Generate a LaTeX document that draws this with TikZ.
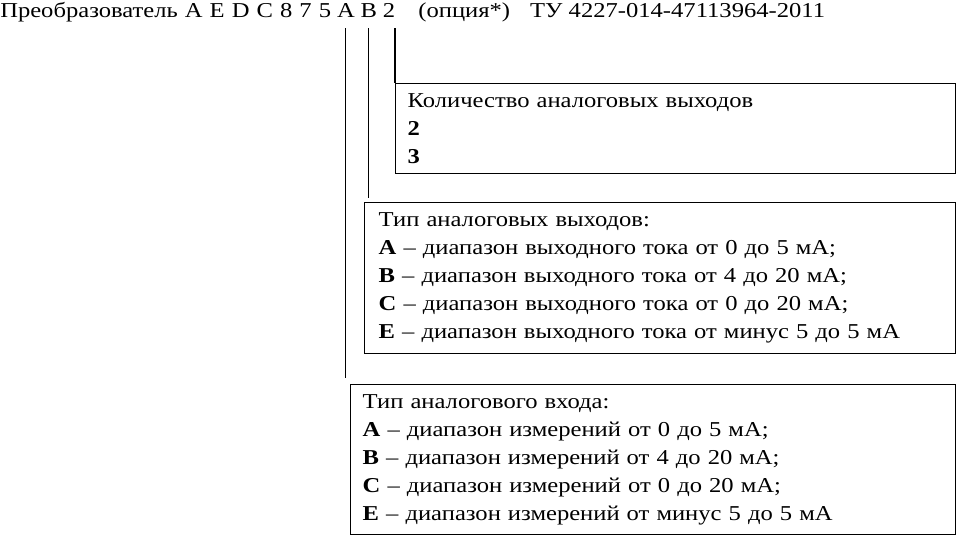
\documentclass[tikz,border=0pt]{standalone}
\usepackage{fontspec}
\setmainfont[FakeStretch=1.16]{Liberation Serif}
\usetikzlibrary{positioning}

\begin{document}
\begin{tikzpicture}[x=0.75pt, y=-0.75pt, font=\fontsize{15.9pt}{21pt}\selectfont]
    \tikzstyle{code} = [inner sep=0pt, anchor=base west]
    \tikzstyle{optbox} = [draw, line width=1.1pt, anchor=north west, align=left, inner xsep=9pt, inner ysep=0pt]
    \tikzstyle{link} = [line width=0.8pt]

    \useasboundingbox (0,0) rectangle (957,536);

    % Designation line
    \node [code] (title) at (0,17) {\spaceskip=5.3pt Преобразователь A E D C 8 7 5};
    \node [code, base right=4pt of title] (tA) {A};
    \node [code, base right=4pt of tA] (tB) {B};
    \node [code, base right=4pt of tB] (t2) {2};
    \node [code, base right=17pt of t2] (tail) {(опция*)\hspace{15pt}ТУ 4227-014-47113964-2011};

    % Option boxes
    \node [optbox, text width=402pt, minimum height=67.5pt] (outN) at (395,83) {Количество аналоговых выходов\\
        \textbf{2}\\
        \textbf{3}};
    \node [optbox, inner xsep=10.5pt, text width=422.25pt, minimum height=113.25pt] (outT) at (364,202) {Тип аналоговых выходов:\\
        \textbf{A} – диапазон выходного тока от 0 до 5 мА;\\
        \textbf{B} – диапазон выходного тока от 4 до 20 мА;\\
        \textbf{C} – диапазон выходного тока от 0 до 20 мА;\\
        \textbf{E} – диапазон выходного тока от минус 5 до 5 мА};
    \node [optbox, text width=435.75pt, minimum height=112.5pt] (inT) at (350,384) {Тип аналогового входа:\\
        \textbf{A} – диапазон измерений от 0 до 5 мА;\\
        \textbf{B} – диапазон измерений от 4 до 20 мА;\\
        \textbf{C} – диапазон измерений от 0 до 20 мА;\\
        \textbf{E} – диапазон измерений от минус 5 до 5 мА};

    % Leader lines
    \draw [link] ([yshift=-8.25pt]t2.base -| outN.north west) -- (outN.north west);
    \draw [link] ([yshift=-8.25pt]tB.base) -- ([yshift=3pt]tB.base |- outT.north);
    \draw [link] ([yshift=-8.25pt]tA.base) -- ([yshift=4.5pt]tA.base |- inT.north);
\end{tikzpicture}
\end{document}
